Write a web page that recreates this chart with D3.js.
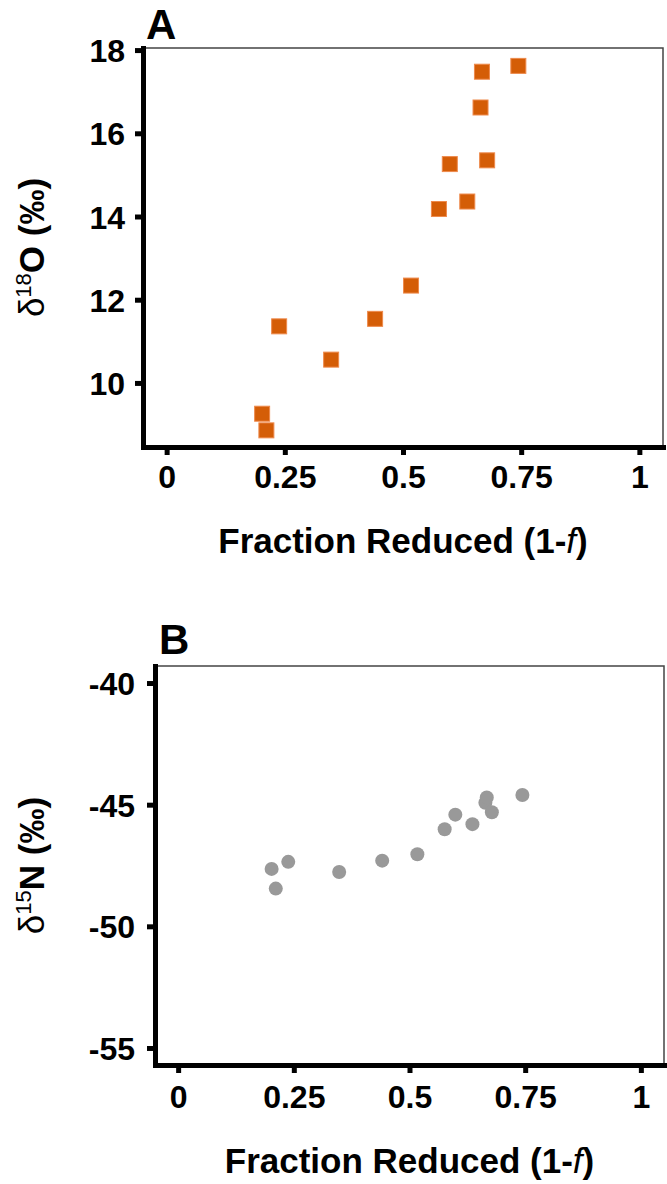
<!DOCTYPE html>
<html>
<head>
<meta charset="utf-8">
<script src="https://cdn.jsdelivr.net/npm/d3@7"></script>
<style>
  body { margin: 0; background: #fff; }
  svg text { font-family: "Liberation Sans", Arial, sans-serif; }
</style>
</head>
<body>
<div id="chart"></div>
<script>
// Data (same samples in both panels)
const fractionReduced = [0.202, 0.211, 0.238, 0.348, 0.441, 0.517, 0.576, 0.599, 0.636, 0.664, 0.667, 0.678, 0.744];
const d18O = [9.26, 8.86, 11.36, 10.56, 11.54, 12.34, 14.18, 15.26, 14.36, 16.62, 17.48, 15.35, 17.62];
const d15N = [-47.64, -48.45, -47.35, -47.77, -47.30, -47.04, -46.01, -45.41, -45.80, -44.92, -44.70, -45.31, -44.60];

const xTicks = [0, 0.25, 0.5, 0.75, 1];
const xTickLabels = ["0", "0.25", "0.5", "0.75", "1"];
const oTicks = [10, 12, 14, 16, 18];
const nTicks = [-55, -50, -45, -40];

const width = 667;
const height = 1184;

const svg = d3.select("#chart")
  .append("svg")
  .attr("width", width)
  .attr("height", height);

// draws one scatter panel
function drawPanel(opt) {
  const x = d3.scaleLinear().domain([-0.05, 1.05]).range([opt.left, opt.right]);
  const y = d3.scaleLinear().domain(opt.yDomain).range([opt.bottom, opt.top]);

  const g = svg.append("g");

  // thin frame on top and right
  g.append("path")
    .attr("d", `M${opt.left},${opt.top}H${opt.right}V${opt.bottom}`)
    .attr("fill", "none")
    .attr("stroke", "#444")
    .attr("stroke-width", 1.5);

  // points
  const pts = fractionReduced.map((f, i) => ({ f: f, v: opt.values[i] }));
  if (opt.shape == "square") {
    g.selectAll("rect.pt")
      .data(pts)
      .enter()
      .append("rect")
        .attr("class", "pt")
        .attr("x", d => x(d.f) - 7.5)
        .attr("y", d => y(d.v) - 7.5)
        .attr("width", 15)
        .attr("height", 15)
        .attr("fill", "#d45d07")
        .attr("stroke", "#ee8a4c")
        .attr("stroke-width", 1);
  } else {
    g.selectAll("circle.pt")
      .data(pts)
      .enter()
      .append("circle")
        .attr("class", "pt")
        .attr("cx", d => x(d.f))
        .attr("cy", d => y(d.v))
        .attr("r", 7)
        .attr("fill", "#999999");
  }

  // axes (plain hyphen for negatives, like the original)
  const yAxis = g.append("g")
    .attr("transform", `translate(${opt.left},0)`)
    .call(d3.axisLeft(y).tickValues(opt.yTicks).tickFormat(d => String(d))
      .tickSize(8).tickSizeOuter(0).tickPadding(opt.yPad));
  const xAxis = g.append("g")
    .attr("transform", `translate(0,${opt.bottom})`)
    .call(d3.axisBottom(x).tickValues(xTicks).tickFormat((d, i) => xTickLabels[i])
      .tickSize(8).tickSizeOuter(0).tickPadding(opt.xPad));

  [yAxis, xAxis].forEach(a => {
    a.attr("font-family", null).attr("font-size", null);
    a.select(".domain").attr("stroke", "#000").attr("stroke-width", 5).attr("stroke-linecap", "square");
    a.selectAll(".tick line").attr("stroke", "#000").attr("stroke-width", 5);
    a.selectAll(".tick text")
      .attr("fill", "#000")
      .style("font-size", "32px")
      .style("font-weight", "bold");
  });
  yAxis.selectAll(".tick text").attr("dy", "0.36em");

  // x axis title
  const xt = g.append("text")
    .attr("x", (opt.left + opt.right) / 2)
    .attr("y", opt.xTitleY)
    .attr("text-anchor", "middle")
    .style("font-size", "35px")
    .style("font-weight", "bold");
  xt.append("tspan").text("Fraction Reduced (1-");
  xt.append("tspan").style("font-style", "italic").style("font-weight", "normal").text("f");
  xt.append("tspan").text(")");

  // y axis title
  const yt = g.append("text")
    .attr("transform", `translate(44,${(opt.top + opt.bottom) / 2}) rotate(-90)`)
    .attr("text-anchor", "middle")
    .style("font-size", "35px");
  yt.append("tspan").style("font-weight", "normal").text("\u03b4");
  yt.append("tspan").style("font-size", "22px").attr("dy", "-0.6em").text(opt.isotope[0]);
  yt.append("tspan").style("font-weight", "bold").attr("dy", "0.37em").text(opt.isotope[1] + " (\u2030)");

  // panel letter
  g.append("text")
    .attr("x", opt.letterX)
    .attr("y", opt.letterY)
    .style("font-size", "42px")
    .style("font-weight", "bold")
    .text(opt.letter);
}

drawPanel({
  letter: "A", letterX: 146, letterY: 39,
  left: 143, right: 663, top: 48, bottom: 447,
  yDomain: [8.46, 18.05], yTicks: oTicks, yPad: 10, xPad: 10,
  values: d18O, shape: "square",
  isotope: ["18", "O"],
  xTitleY: 553
});

drawPanel({
  letter: "B", letterX: 159, letterY: 654,
  left: 155, right: 664, top: 666, bottom: 1065,
  yDomain: [-55.7, -39.3], yTicks: nTicks, yPad: 12, xPad: 12,
  values: d15N, shape: "circle",
  isotope: ["15", "N"],
  xTitleY: 1173
});
</script>
</body>
</html>
